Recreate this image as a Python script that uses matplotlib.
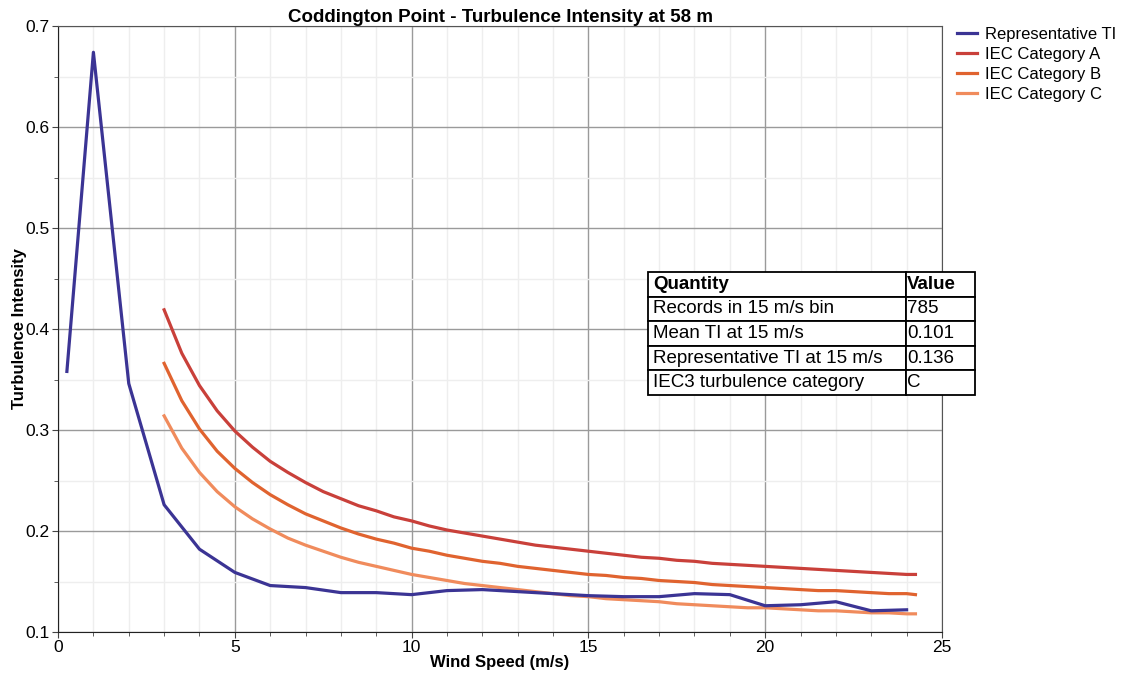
import numpy as np
import matplotlib
matplotlib.use("Agg")
import matplotlib.pyplot as plt
from matplotlib.ticker import MultipleLocator

plt.rcParams['font.family'] = ['Liberation Sans', 'DejaVu Sans']

# representative TI per wind speed bin
rep_speed = [0.25, 1, 2, 3, 4, 5, 6, 7, 8, 9, 10, 11, 12, 13, 14, 15, 16, 17, 18,
             19, 20, 21, 22, 23, 24]
rep_ti = [0.358, 0.674, 0.346, 0.226, 0.182, 0.159, 0.146, 0.144, 0.139, 0.139,
          0.137, 0.141, 0.142, 0.140, 0.138, 0.136, 0.135, 0.135, 0.138, 0.137,
          0.126, 0.127, 0.130, 0.121, 0.122]

# IEC category curves
iec_speed = [3, 3.5, 4, 4.5, 5, 5.5, 6, 6.5, 7, 7.5, 8, 8.5, 9, 9.5, 10, 10.5, 11,
             11.5, 12, 12.5, 13, 13.5, 14, 14.5, 15, 15.5, 16, 16.5, 17, 17.5, 18,
             18.5, 19, 19.5, 20, 20.5, 21, 21.5, 22, 22.5, 23, 23.5, 24, 24.25]
iec_a = [0.419, 0.376, 0.344, 0.319, 0.299, 0.283, 0.269, 0.258, 0.248, 0.239,
         0.232, 0.225, 0.220, 0.214, 0.210, 0.205, 0.201, 0.198, 0.195, 0.192,
         0.189, 0.186, 0.184, 0.182, 0.180, 0.178, 0.176, 0.174, 0.173, 0.171,
         0.170, 0.168, 0.167, 0.166, 0.165, 0.164, 0.163, 0.162, 0.161, 0.160,
         0.159, 0.158, 0.157, 0.157]
iec_b = [0.366, 0.329, 0.301, 0.279, 0.262, 0.248, 0.236, 0.226, 0.217, 0.210,
         0.203, 0.197, 0.192, 0.188, 0.183, 0.180, 0.176, 0.173, 0.170, 0.168,
         0.165, 0.163, 0.161, 0.159, 0.157, 0.156, 0.154, 0.153, 0.151, 0.150,
         0.149, 0.147, 0.146, 0.145, 0.144, 0.143, 0.142, 0.141, 0.141, 0.140,
         0.139, 0.138, 0.138, 0.137]
iec_c = [0.314, 0.282, 0.258, 0.239, 0.224, 0.212, 0.202, 0.193, 0.186, 0.180,
         0.174, 0.169, 0.165, 0.161, 0.157, 0.154, 0.151, 0.148, 0.146, 0.144,
         0.142, 0.140, 0.138, 0.136, 0.135, 0.133, 0.132, 0.131, 0.130, 0.128,
         0.127, 0.126, 0.125, 0.124, 0.124, 0.123, 0.122, 0.121, 0.121, 0.120,
         0.119, 0.119, 0.118, 0.118]

table_rows = [["Quantity", "Value"],
              ["Records in 15 m/s bin", "785"],
              ["Mean TI at 15 m/s", "0.101"],
              ["Representative TI at 15 m/s", "0.136"],
              ["IEC3 turbulence category", "C"]]

fig = plt.figure(figsize=(11.25, 6.79), dpi=100)
ax = fig.add_axes([0.0516, 0.0692, 0.7857, 0.8925])

ax.plot(iec_speed, iec_a, color='#c9403a', lw=2.3, label='IEC Category A', zorder=3)
ax.plot(iec_speed, iec_b, color='#e0632f', lw=2.3, label='IEC Category B', zorder=3)
ax.plot(iec_speed, iec_c, color='#f08b5c', lw=2.3, label='IEC Category C', zorder=3)
ax.plot(rep_speed, rep_ti, color='#3b3494', lw=2.3, label='Representative TI', zorder=4)

ax.set_xlim(0, 25)
ax.set_ylim(0.1, 0.7)
ax.xaxis.set_major_locator(MultipleLocator(5))
ax.xaxis.set_minor_locator(MultipleLocator(1))
ax.yaxis.set_major_locator(MultipleLocator(0.1))
ax.yaxis.set_minor_locator(MultipleLocator(0.05))
ax.grid(which='major', color='#9a9a9a', lw=1.0, zorder=0)
ax.grid(which='minor', color='#eeeeee', lw=1.0, zorder=0)
ax.set_axisbelow(True)
ax.tick_params(which='major', length=4, labelsize=12.5, color='#444444', pad=2)
ax.tick_params(which='minor', length=3, color='#444444')
for s in ax.spines.values():
    s.set_color('#555555')
ax.spines['left'].set_color('#222222')
ax.spines['bottom'].set_color('#222222')

ax.set_title('Coddington Point - Turbulence Intensity at 58 m', fontsize=13.5,
             fontweight='bold', pad=3)
ax.set_xlabel('Wind Speed (m/s)', fontsize=12, fontweight='bold', labelpad=0)
ax.set_ylabel('Turbulence Intensity', fontsize=12, fontweight='bold', labelpad=-1)

handles, labels = ax.get_legend_handles_labels()
order = [3, 0, 1, 2]
ax.legend([handles[i] for i in order], [labels[i] for i in order],
          loc='upper left', bbox_to_anchor=(1.004, 1.018), frameon=False,
          fontsize=12, handlelength=1.2, handletextpad=0.5, labelspacing=0.3,
          borderaxespad=0.3)

tbl = ax.table(cellText=table_rows, colWidths=[0.292, 0.078],
               bbox=[0.667, 0.391, 0.370, 0.203], cellLoc='left')
tbl.auto_set_font_size(False)
tbl.set_fontsize(13.5)
for (r, c), cell in tbl.get_celld().items():
    cell.set_edgecolor('black')
    cell.set_linewidth(1.3)
    cell.PAD = 0.02
    if r == 0:
        cell.get_text().set_fontweight('bold')
tbl.set_zorder(6)

fig.savefig('out.png', dpi=100)
